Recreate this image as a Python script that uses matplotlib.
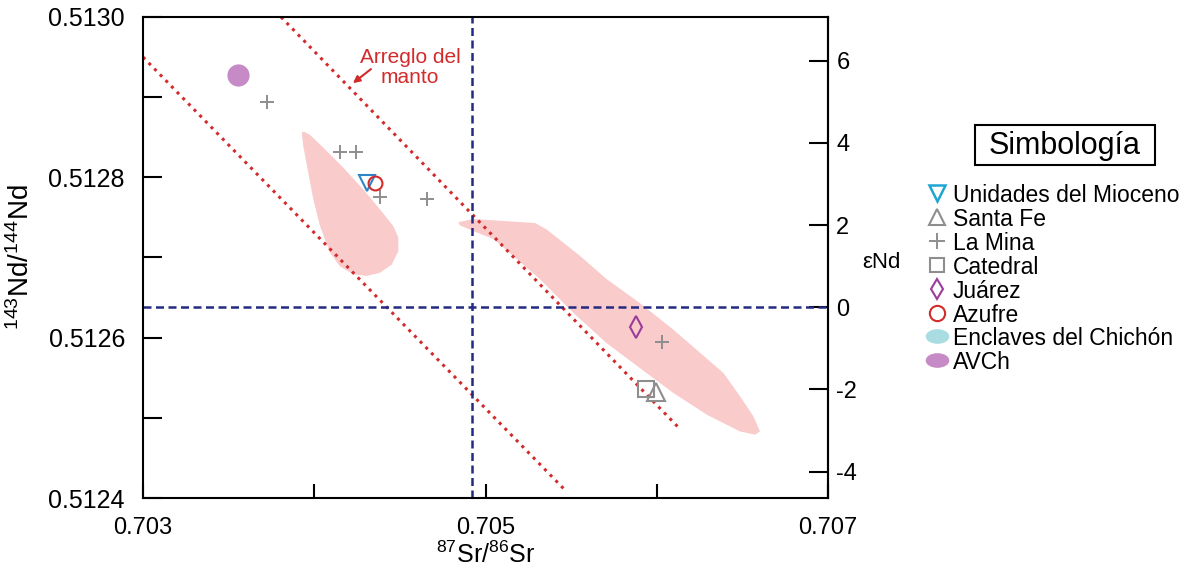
import numpy as np
import matplotlib
matplotlib.use('Agg')
import matplotlib.pyplot as plt
from matplotlib.lines import Line2D
from matplotlib.patches import Rectangle
from matplotlib.path import Path

plt.rcParams['font.family'] = ['Liberation Sans', 'DejaVu Sans']
plt.rcParams['mathtext.fontset'] = 'custom'
plt.rcParams['mathtext.rm'] = 'Liberation Sans'
plt.rcParams['mathtext.it'] = 'Liberation Sans:italic'

# --- data ---
chur = 0.512638      # eNd = 0
bse_sr = 0.70492     # vertical reference line

# mantle array bounds (two dotted lines)
mantle_upper_x = [0.703806, 0.706136]
mantle_upper_y = [0.51300, 0.512486]
mantle_lower_x = [0.70300, 0.705464]
mantle_lower_y = [0.51295, 0.51241]

# pink fields
field1_x = [0.703927, 0.703936, 0.703965, 0.703994, 0.704034, 0.704092, 0.704150,
            0.704228, 0.704306, 0.704384, 0.704452, 0.704491, 0.704491, 0.704462,
            0.704384, 0.704286, 0.704170, 0.704053, 0.703975, 0.703940]
field1_y = [0.512856, 0.512839, 0.512806, 0.512773, 0.512739, 0.512706, 0.512689,
            0.512679, 0.512677, 0.512681, 0.512691, 0.512708, 0.512725, 0.512739,
            0.512760, 0.512785, 0.512812, 0.512837, 0.512853, 0.512857]
field2_x = [0.704841, 0.704929, 0.705289, 0.705357, 0.705552, 0.705708, 0.705902,
            0.706097, 0.706389, 0.706486, 0.706564, 0.706603, 0.706574, 0.706486,
            0.706292, 0.706097, 0.705902, 0.705708, 0.705513, 0.705318, 0.705162,
            0.705046, 0.704929, 0.704851]
field2_y = [0.512744, 0.512748, 0.512743, 0.512735, 0.512702, 0.512673, 0.512643,
            0.512610, 0.512556, 0.512527, 0.512502, 0.512483, 0.512479, 0.512483,
            0.512504, 0.512531, 0.512562, 0.512593, 0.512631, 0.512673, 0.512702,
            0.512723, 0.512733, 0.512740]

# samples
avch_x, avch_y = [0.703555], [0.512928]
mina_x = [0.703722, 0.704150, 0.704244, 0.704384, 0.704660, 0.706032]
mina_y = [0.512894, 0.512831, 0.512831, 0.512775, 0.512773, 0.512595]
mioceno_x, mioceno_y = [0.704306], [0.512793]
azufre_x, azufre_y = [0.704355], [0.512793]
juarez_x, juarez_y = [0.705877], [0.512613]
catedral_x, catedral_y = [0.705937], [0.512536]
santafe_x, santafe_y = [0.705996], [0.512532]

legend_labels = ['Unidades del Mioceno', 'Santa Fe', 'La Mina', 'Catedral',
                 'Juárez', 'Azufre', 'Enclaves del Chichón', 'AVCh']

c_pink = '#f9cbcb'
c_red = '#d22b2b'
c_navy = '#232a82'
c_gray = '#8e8e8e'
c_blue = '#2f86c4'
c_purple = '#9a3c9a'
c_orchid = '#c68ac6'
c_cyan = '#a9dde2'

W, H = 1200, 570
fig = plt.figure(figsize=(12, 5.7), dpi=100)
ax = fig.add_axes([143/W, 1-498/H, 685/W, 481/H])

ax.fill(field1_x, field1_y, color=c_pink, lw=0, zorder=1)
ax.fill(field2_x, field2_y, color=c_pink, lw=0, zorder=1)

ax.plot(mantle_upper_x, mantle_upper_y, ls=':', color=c_red, lw=2.2, zorder=2)
ax.plot(mantle_lower_x, mantle_lower_y, ls=':', color=c_red, lw=2.2, zorder=2)
ax.axhline(chur, color=c_navy, ls=(0, (3.2, 1.8)), lw=1.8, zorder=2)
ax.axvline(bse_sr, color=c_navy, ls=(0, (3.2, 1.8)), lw=1.8, zorder=2)

ax.plot(avch_x, avch_y, 'o', ms=16, color=c_orchid, mec='none', zorder=3)
ax.plot(mina_x, mina_y, '+', ms=10, mew=1.4, color=c_gray, zorder=3, ls='none')
ax.plot(mioceno_x, mioceno_y, 'v', ms=12, mfc='none', mec=c_blue, mew=1.5, zorder=3)
ax.plot(azufre_x, azufre_y, 'o', ms=10, mfc='none', mec=c_red, mew=1.5, zorder=4)
ax.plot(juarez_x, juarez_y, 'd', ms=11, mfc='none', mec=c_purple, mew=1.5, zorder=3)
ax.plot(catedral_x, catedral_y, 's', ms=11, mfc='none', mec=c_gray, mew=1.5, zorder=3)
ax.plot(santafe_x, santafe_y, '^', ms=13, mfc='none', mec=c_gray, mew=1.5, zorder=3)

# annotation
ax.text(0.704559, 0.512937, 'Arreglo del\nmanto', color=c_red, fontsize=15,
        ha='center', va='center', linespacing=1.1)
ax.annotate('', xy=(0.704226, 0.5129175), xytext=(0.704331, 0.512935),
            arrowprops=dict(arrowstyle='-|>', color=c_red, lw=1.5,
                            mutation_scale=10, shrinkA=0, shrinkB=0))

ax.set_xlim(0.703, 0.707)
ax.set_ylim(0.5124, 0.5130)
ax.set_xticks([0.703, 0.705, 0.707])
ax.set_xticklabels(['0.703', '0.705', '0.707'])
ax.set_xticks([0.704, 0.706], minor=True)
ax.set_yticks([0.5124, 0.5126, 0.5128, 0.5130])
ax.set_yticklabels(['0.5124', '0.5126', '0.5128', '0.5130'])
ax.set_yticks([0.5125, 0.5127, 0.5129], minor=True)
ax.tick_params(axis='y', which='both', direction='in', length=14, width=1.5,
               labelsize=18, pad=13, right=False)
ax.tick_params(axis='x', which='both', direction='in', length=10, width=1.5,
               labelsize=17, pad=14, top=False)
for s in ax.spines.values():
    s.set_linewidth(1.5)

sec = ax.secondary_yaxis('right', functions=(lambda y: (y / chur - 1) * 1e4,
                                             lambda e: (e / 1e4 + 1) * chur))
sec.set_yticks([-4, -2, 0, 2, 4, 6])
sec.set_yticklabels(['-4', '-2', '0', '2', '4', '6'])
sec.tick_params(direction='in', length=14, width=1.5, labelsize=17, pad=6)
sec.spines['right'].set_linewidth(1.5)

fig.text(486/W, 1-555/H, r'$^{87}$Sr/$^{86}$Sr', ha='center', va='center', fontsize=18)
fig.text(21/W, 1-257/H, r'$^{143}$Nd/$^{144}$Nd', ha='center', va='center',
         fontsize=20, rotation=90)
fig.text(881/W, 1-262/H, 'εNd', ha='center', va='center', fontsize=16)

# legend (drawn by hand so rows sit where they do in the original)
fig.add_artist(Rectangle((975/W, 1-165/H), 180/W, 40/H, transform=fig.transFigure,
                         fc='white', ec='black', lw=1.5))
fig.text(1065/W, 1-146/H, 'Simbología', ha='center', va='center', fontsize=22)

ell = Path(Path.unit_circle().vertices * np.array([1.0, 0.62]), Path.unit_circle().codes)
leg_styles = [
    dict(marker='v', ms=11, mfc='none', mec='#1fa6d2', mew=1.8),
    dict(marker='^', ms=11, mfc='none', mec=c_gray, mew=1.5),
    dict(marker='+', ms=11, color=c_gray, mew=1.4),
    dict(marker='s', ms=10, mfc='none', mec=c_gray, mew=1.5),
    dict(marker='d', ms=10, mfc='none', mec=c_purple, mew=1.5),
    dict(marker='o', ms=11, mfc='none', mec=c_red, mew=1.5),
    dict(marker=ell, ms=17, color=c_cyan, mec='none'),
    dict(marker=ell, ms=17, color=c_orchid, mec='none'),
]
for i, (lab, st) in enumerate(zip(legend_labels, leg_styles)):
    yy = 1 - (193 + 23.9 * i) / H
    fig.add_artist(Line2D([937/W], [yy], transform=fig.transFigure, ls='none', **st))
    fig.text(953/W, yy, lab, ha='left', va='center_baseline', fontsize=16.5)

fig.savefig('out.png', dpi=100)
